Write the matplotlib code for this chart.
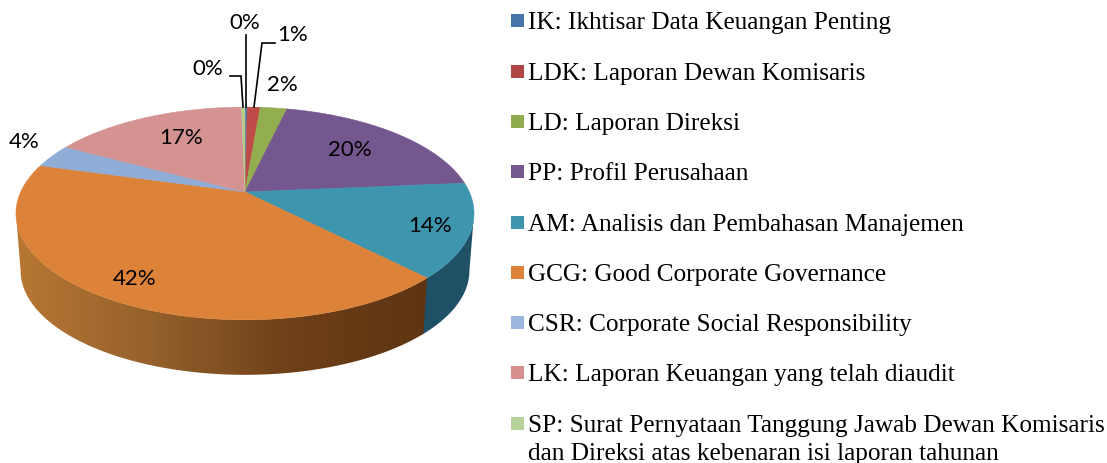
import numpy as np
import matplotlib
matplotlib.use('Agg')
import matplotlib.pyplot as plt
from matplotlib.patches import Polygon, Rectangle

# chart data
codes = ['IK', 'LDK', 'LD', 'PP', 'AM', 'GCG', 'CSR', 'LK', 'SP']
shares = [0.2, 1.1, 2.3, 20.0, 14.2, 41.6, 3.6, 16.7, 0.3]
pct_labels = ['0%', '1%', '2%', '20%', '14%', '42%', '4%', '17%', '0%']
legend_labels = [
    ['IK: Ikhtisar Data Keuangan Penting'],
    ['LDK: Laporan Dewan Komisaris'],
    ['LD: Laporan Direksi'],
    ['PP: Profil Perusahaan'],
    ['AM: Analisis dan Pembahasan Manajemen'],
    ['GCG: Good Corporate Governance'],
    ['CSR: Corporate Social Responsibility'],
    ['LK: Laporan Keuangan yang telah diaudit'],
    ['SP: Surat Pernyataan Tanggung Jawab Dewan Komisaris',
     'dan Direksi atas kebenaran isi laporan tahunan'],
]

# styles
colors = ['#4674A8', '#BE4B48', '#93AE50', '#75578F', '#3E95AE',
          '#DC8339', '#8FADD6', '#D49391', '#B7CC8C']
legend_colors = ['#4674A8', '#B04644', '#8FAB4E', '#75578F', '#3E95AE',
                 '#DC8339', '#9BB5DC', '#D98F8D', '#B7D29A']
wall_stops = ['#B87733', '#94602C', '#6E4018', '#5E3412']   # GCG wall, left to right

# layout, in figure pixels
CX, CY = 245, 192
R, S, K = 224.3, 102.0, 0.2018   # perspective of the pie top
DEPTH, SHRINK = 57.6, 0.98
pct_xy = [(245, 23), (293, 35), (282, 85), (350, 150), (430, 226),
          (135, 279), (24, 142), (181, 138), (208, 69)]
leaders = [[(246, 35), (246, 107)],
           [(275, 43), (262, 43), (254, 107)],
           [(230, 76), (241, 76), (243, 107)]]
legend_y = [21, 72, 122, 172, 223, 273, 323, 373, 424]


def top_xy(theta):
    # theta runs clockwise from 12 o'clock
    x, y = np.sin(theta), np.cos(theta)
    w = 1 + K * y
    return CX + R * x / w, CY - S * y / w


def bottom_xy(theta):
    x, y = top_xy(theta)
    return CX + (x - CX) * SHRINK, CY + (y - CY) * SHRINK + DEPTH


def wall_patch(t_from, t_to, **kw):
    tt = np.linspace(t_from, t_to, 120)
    xa, ya = top_xy(tt)
    xb, yb = bottom_xy(tt)
    return Polygon(np.c_[np.r_[xa, xb[::-1]], np.r_[ya, yb[::-1]]], closed=True, **kw)


fig = plt.figure(figsize=(11.07, 4.63), dpi=100)
ax = fig.add_axes([0, 0, 1, 1])
ax.axis('off')

edges = np.cumsum([0] + shares) / np.sum(shares) * 2 * np.pi

# side wall: only the front half shows
wall_from = np.pi / 2 + np.arcsin(K)
wall_to = 3 * np.pi / 2 - np.arcsin(K)
i_gcg = codes.index('GCG')
ax.add_patch(wall_patch(wall_from, edges[i_gcg] + 0.01, facecolor='#1F5166', edgecolor='none'))

# GCG wall shades from left to right, a gradient clipped to the wall
gcg_wall = wall_patch(edges[i_gcg], wall_to, facecolor='none', edgecolor='none')
ax.add_patch(gcg_wall)
x_left, x_right = top_xy(wall_to)[0], bottom_xy(edges[i_gcg])[0]
cmap = matplotlib.colors.LinearSegmentedColormap.from_list('wall', wall_stops)
img = ax.imshow(np.linspace(0, 1, 256)[None, :], cmap=cmap, aspect='auto',
                extent=(x_left, top_xy(edges[i_gcg])[0], 380, 200), zorder=1)
img.set_clip_path(gcg_wall)

# top face
for k in range(len(shares)):
    n = max(4, int(shares[k] * 3))
    tt = np.linspace(edges[k], edges[k + 1], n)
    xs, ys = top_xy(tt)
    ax.add_patch(Polygon(np.c_[np.r_[CX, xs], np.r_[CY, ys]], closed=True,
                         facecolor=colors[k], edgecolor=colors[k], lw=0.4, zorder=2))

# percent labels
for txt, (x, y) in zip(pct_labels, pct_xy):
    ax.text(x, y, txt, ha='center', va='center', family='Lato', fontsize=16, color='black')
for pts in leaders:
    ax.plot(*zip(*pts), color='black', lw=1.2, solid_joinstyle='miter')

# legend
for lines, col, y in zip(legend_labels, legend_colors, legend_y):
    ax.add_patch(Rectangle((511, y - 7), 13, 13, facecolor=col, edgecolor='none'))
    for j, line in enumerate(lines):
        ax.text(528, y + 8 + j * 28, line, ha='left', va='baseline',
                family='Liberation Serif', fontsize=18.15, color='black')

ax.set_xlim(0, 1107)
ax.set_ylim(463, 0)
plt.savefig('out.png', dpi=100)
plt.close(fig)
